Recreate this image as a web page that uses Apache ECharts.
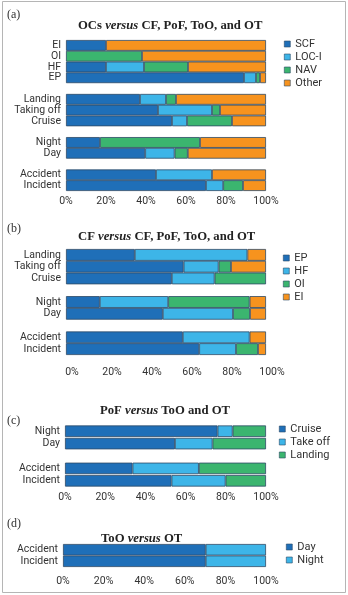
<!DOCTYPE html>
<html>
<head>
<meta charset="utf-8">
<script src="https://cdn.jsdelivr.net/npm/echarts@6/dist/echarts.min.js"></script>
<style>
  html, body { margin: 0; padding: 0; background: #fff; }
  #chart { width: 348px; height: 595px; }
</style>
</head>
<body>
<div id="chart"></div>
<script>
    // 刻度
    let xTicks = [0, 20, 40, 60, 80, 100];

    // (a) OCs versus CF, PoF, ToO, and OT
    let catA = ['EI', 'OI', 'HF', 'EP', ' ', 'Landing', 'Taking off', 'Cruise', '  ', 'Night', 'Day', '   ', 'Accident', 'Incident'];
    let aSCF = [20, null, 20, 89, null, 37, 46, 53, null, 17, 39.6, null, 45, 70];
    let aLOCI = [null, null, 19, 6, null, 13, 27, 7.5, null, null, 14.7, null, 28, 8.6];
    let aNAV = [null, 38, 22, 2, null, 5, 4, 22.5, null, 50, 6.6, null, null, 9.9];
    let aOther = [80, 62, 39, 3, null, 45, 23, 17, null, 33, 39.1, null, 27, 11.5];

    // (b) CF versus CF, PoF, ToO, and OT
    let catB = ['Landing', 'Taking off', 'Cruise', ' ', 'Night', 'Day', '  ', 'Accident', 'Incident'];
    let bEP = [34.4, 58.8, 52.9, null, 16.9, 48.4, null, 58.4, 66.6];
    let bHF = [56.3, 17.5, 21.4, null, 34.2, 35.1, null, 33.4, 18.4];
    let bOI = [null, 6.2, 25.7, null, 40.7, 8.5, null, null, 11];
    let bEI = [9.3, 17.5, null, null, 8.2, 8, null, 8.2, 4];

    // (c) PoF versus ToO and OT
    let catC = ['Night', 'Day', ' ', 'Accident', 'Incident'];
    let cCruise = [75.9, 54.7, null, 33.6, 53];
    let cTakeoff = [7.5, 18.7, null, 33, 26.9];
    let cLanding = [16.6, 26.6, null, 33.4, 20.1];

    // (d) ToO versus OT
    let catD = ['Accident', 'Incident'];
    let dDay = [70.3, 70.3];
    let dNight = [29.7, 29.7];

    let colors = ['#1f6fb8', '#3db5e8', '#3bb56f', '#f7931e'];
    let sans = 'Roboto';
    let serif = 'Liberation Serif';

    let chart = echarts.init(document.getElementById('chart'));

    function titleOf(pre, post, left, top) {
        return {
            text: '{b|' + pre + ' }{i|versus}{b| ' + post + '}',
            left: left,
            top: top,
            padding: 0,
            textStyle: {
                rich: {
                    b: { fontFamily: serif, fontWeight: 'bold', fontSize: 12.7, color: '#222' },
                    i: { fontFamily: serif, fontWeight: 'bold', fontStyle: 'italic', fontSize: 12.7, color: '#222' }
                }
            }
        };
    }

    function tag(text, top) {
        return {
            text: text, left: 7, top: top, padding: 0,
            textStyle: { fontFamily: serif, fontWeight: 'normal', fontSize: 12, color: '#333' }
        };
    }

    function xAxisOf(grid, margin, pad) {
        return {
            type: 'value', gridIndex: grid, min: xTicks[0], max: xTicks[xTicks.length - 1], interval: 20,
            axisLine: { show: false }, axisTick: { show: false }, splitLine: { show: false },
            axisLabel: {
                formatter: '{value}%', margin: margin, fontFamily: sans, fontSize: 10.5, color: '#333',
                padding: pad || 0
            }
        };
    }

    function yAxisOf(grid, cats) {
        return {
            type: 'category', gridIndex: grid, data: cats, inverse: true,
            axisLine: { show: false }, axisTick: { show: false }, splitLine: { show: false },
            axisLabel: { margin: 5, fontFamily: sans, fontSize: 10.5, color: '#333', interval: 0 }
        };
    }

    function barOf(name, data, grid, color, stack, gap) {
        return {
            name: name, type: 'bar', stack: stack, data: data,
            xAxisIndex: grid, yAxisIndex: grid,
            barCategoryGap: gap, barGap: '0%',
            itemStyle: { color: color, borderColor: '#2e4a66', borderWidth: 0.8 },
            animation: false
        };
    }

    function legendOf(names, left, top) {
        return {
            data: names, orient: 'vertical', left: left, top: top,
            itemWidth: 6, itemHeight: 6, itemGap: 0, padding: 0,
            icon: 'rect',
            itemStyle: { borderColor: '#2e4a66', borderWidth: 0.6 },
            textStyle: { fontFamily: sans, fontSize: 11, color: '#333', lineHeight: 13 }
        };
    }

    let option = {
        backgroundColor: '#fff',
        title: [
            tag('(a)', 9),
            titleOf('OCs', 'CF, PoF, ToO, and OT', 78, 19),
            tag('(b)', 223),
            titleOf('CF', 'CF, PoF, ToO, and OT', 78, 230),
            tag('(c)', 415),
            titleOf('PoF', 'ToO and OT', 100, 404),
            tag('(d)', 518),
            titleOf('ToO', 'OT', 101, 532)
        ],
        legend: [
            legendOf(['SCF', 'LOC-I', 'NAV', 'Other'], 284, 37.5),
            legendOf(['EP', 'HF', 'OI', 'EI'], 283, 251.5),
            legendOf(['Cruise', 'Take off', 'Landing'], 279, 422.5),
            legendOf(['Day', 'Night'], 286, 540.5)
        ],
        grid: [
            { left: 66, width: 200, top: 40, height: 151 },
            { left: 66, width: 200, top: 249, height: 106 },
            { left: 65, width: 201, top: 425, height: 62 },
            { left: 63, width: 203, top: 544, height: 23 }
        ],
        xAxis: [
            xAxisOf(0, 5),
            xAxisOf(1, 12, [0, 0, 0, 12]),
            xAxisOf(2, 5),
            xAxisOf(3, 9)
        ],
        yAxis: [
            yAxisOf(0, catA),
            yAxisOf(1, catB),
            yAxisOf(2, catC),
            yAxisOf(3, catD)
        ],
        series: [
            barOf('SCF', aSCF, 0, colors[0], 'a', '0%'),
            barOf('LOC-I', aLOCI, 0, colors[1], 'a', '0%'),
            barOf('NAV', aNAV, 0, colors[2], 'a', '0%'),
            barOf('Other', aOther, 0, colors[3], 'a', '0%'),

            barOf('EP', bEP, 1, colors[0], 'b', '0%'),
            barOf('HF', bHF, 1, colors[1], 'b', '0%'),
            barOf('OI', bOI, 1, colors[2], 'b', '0%'),
            barOf('EI', bEI, 1, colors[3], 'b', '0%'),

            barOf('Cruise', cCruise, 2, colors[0], 'c', '7%'),
            barOf('Take off', cTakeoff, 2, colors[1], 'c', '7%'),
            barOf('Landing', cLanding, 2, colors[2], 'c', '7%'),

            barOf('Day', dDay, 3, colors[0], 'd', '0%'),
            barOf('Night', dNight, 3, colors[1], 'd', '0%')
        ],
        graphic: [{
            type: 'rect', shape: { x: 2.5, y: 1.5, width: 343, height: 591 },
            style: { fill: 'none', stroke: '#b5b5b5', lineWidth: 1 }, silent: true
        }]
    };

    chart.setOption(option);
</script>
</body>
</html>
